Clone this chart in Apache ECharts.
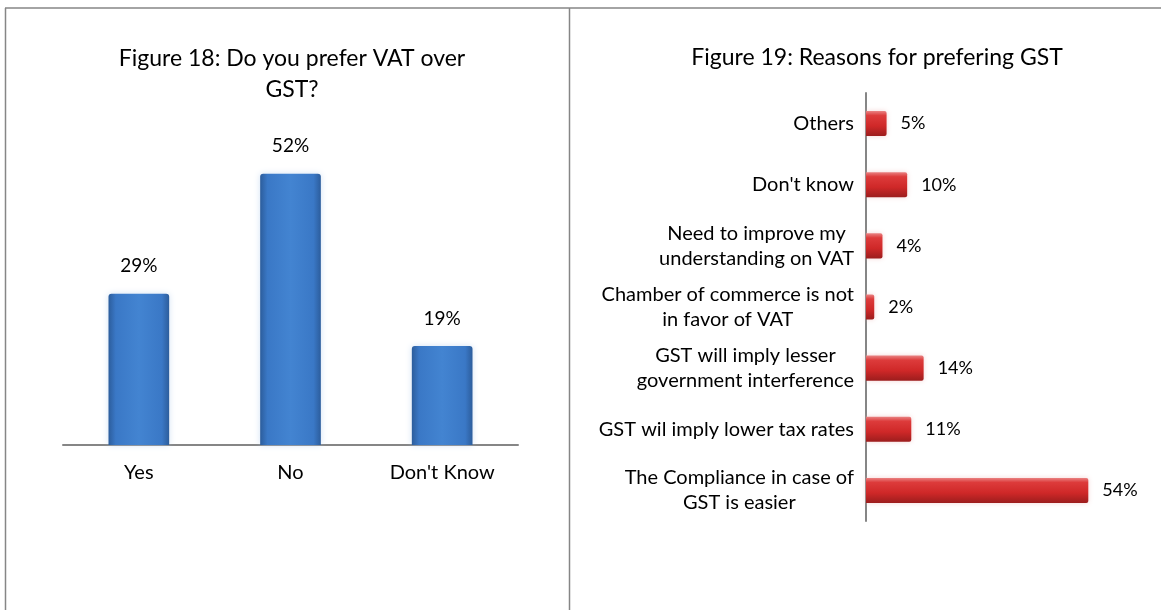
<!DOCTYPE html>
<html>
<head>
<meta charset="utf-8">
<style>
  html, body { margin: 0; padding: 0; background: #ffffff; }
  #chart { width: 1161px; height: 610px; }
</style>
<script src="https://cdn.jsdelivr.net/npm/echarts@6/dist/echarts.min.js"></script>
</head>
<body>
<div id="chart"></div>
<script>
// Figure 18: VAT vs GST preference
const prefCategories = ['Yes', 'No', "Don't Know"];
const prefValues = [29, 52, 19];

// Figure 19: reasons for preferring GST (top to bottom)
const reasonCategories = [
  'Others',
  "Don't know",
  'Need to improve my\nunderstanding on VAT',
  'Chamber of commerce is not\nin favor of VAT',
  'GST will imply lesser\ngovernment interference',
  'GST wil imply lower tax rates',
  'The Compliance in case of\nGST is easier'
];
const reasonValues = [5, 10, 4, 2, 14, 11, 54];

const FONT = 'Lato, "Open Sans", sans-serif';
const GRAY = '#868686';

const blueFill = new echarts.graphic.LinearGradient(0, 0, 1, 0, [
  { offset: 0, color: '#2c5d9c' },
  { offset: 0.12, color: '#3a78c6' },
  { offset: 0.5, color: '#4384d1' },
  { offset: 0.88, color: '#3a78c6' },
  { offset: 1, color: '#2c5d9c' }
]);
const redFill = new echarts.graphic.LinearGradient(0, 0, 0, 1, [
  { offset: 0, color: '#e98282' },
  { offset: 0.18, color: '#dd3b3b' },
  { offset: 0.6, color: '#cf2828' },
  { offset: 1, color: '#9c1d1d' }
]);

const chart = echarts.init(document.getElementById('chart'), null, { renderer: 'canvas' });

chart.setOption({
  animation: false,
  backgroundColor: '#ffffff',
  textStyle: { fontFamily: FONT },
  title: [
    {
      text: 'Figure 18: Do you prefer VAT over\nGST?',
      left: 287, top: 38, textAlign: 'center',
      textStyle: { fontFamily: FONT, fontSize: 23, fontWeight: 'normal', color: '#000', lineHeight: 31 }
    },
    {
      text: 'Figure 19: Reasons for prefering GST',
      left: 872, top: 39, textAlign: 'center',
      textStyle: { fontFamily: FONT, fontSize: 23, fontWeight: 'normal', color: '#000', lineHeight: 28 }
    }
  ],
  graphic: [
    // panel frame
    { type: 'line', shape: { x1: 5, y1: 8, x2: 1161, y2: 8 }, style: { stroke: GRAY, lineWidth: 1.5 }, silent: true },
    { type: 'line', shape: { x1: 5.5, y1: 8, x2: 5.5, y2: 610 }, style: { stroke: GRAY, lineWidth: 1.5 }, silent: true },
    { type: 'line', shape: { x1: 569.5, y1: 8, x2: 569.5, y2: 610 }, style: { stroke: GRAY, lineWidth: 1.5 }, silent: true }
  ],
  grid: [
    { left: 63, right: 643, top: 132, bottom: 165 },
    { left: 866, right: 48, top: 93, bottom: 89 }
  ],
  xAxis: [
    {
      gridIndex: 0, type: 'category', data: prefCategories,
      axisLine: { lineStyle: { color: GRAY, width: 2 } },
      axisTick: { show: false },
      axisLabel: { color: '#000', fontSize: 20, fontFamily: FONT, margin: 18 }
    },
    {
      gridIndex: 1, type: 'value', min: 0, max: 60, show: false
    }
  ],
  yAxis: [
    { gridIndex: 0, type: 'value', min: 0, max: 60, show: false },
    {
      gridIndex: 1, type: 'category', data: reasonCategories, inverse: true,
      axisLine: { lineStyle: { color: GRAY, width: 2 } },
      axisTick: { show: false },
      axisLabel: {
        margin: 12,
        formatter: (v) => v.split('\n').map(l => '{c|' + l + '}').join('\n'),
        rich: { c: { align: 'center', color: '#000', fontSize: 20, fontFamily: FONT, lineHeight: 25 } }
      }
    }
  ],
  series: [
    {
      type: 'bar', xAxisIndex: 0, yAxisIndex: 0, data: prefValues,
      barWidth: '40%',
      itemStyle: { color: blueFill, borderRadius: [3, 3, 0, 0], shadowColor: 'rgba(170,200,235,0.55)', shadowBlur: 6 },
      label: {
        show: true, position: 'top', distance: 18, formatter: '{c}%',
        color: '#000', fontSize: 19, fontFamily: FONT
      }
    },
    {
      type: 'bar', xAxisIndex: 1, yAxisIndex: 1, data: reasonValues,
      barWidth: '41%',
      itemStyle: { color: redFill, borderRadius: [0, 2, 2, 0], shadowColor: 'rgba(235,170,170,0.5)', shadowBlur: 5 },
      label: {
        show: true, position: 'right', distance: 14, formatter: '{c}%',
        color: '#000', fontSize: 18, fontFamily: FONT
      }
    }
  ]
});
</script>
</body>
</html>
